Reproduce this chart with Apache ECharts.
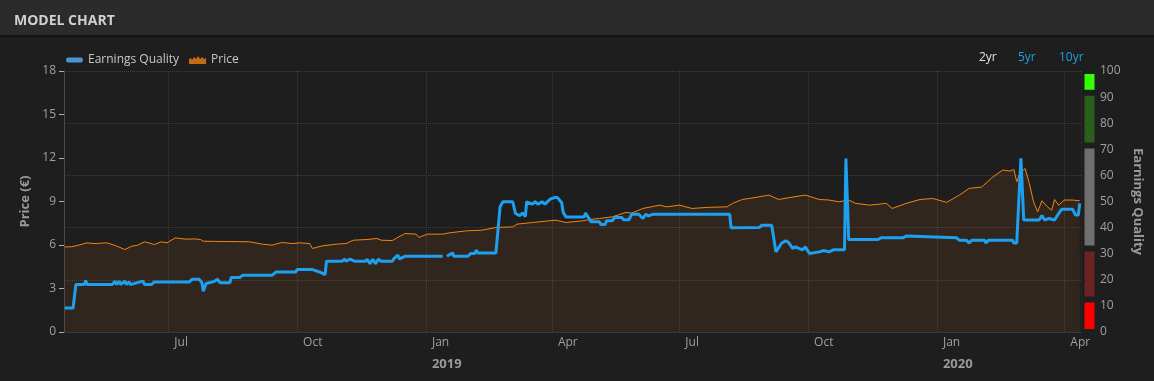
<!DOCTYPE html>
<html><head><meta charset="utf-8">
<script src="https://cdn.jsdelivr.net/npm/echarts@6/dist/echarts.min.js"></script>
<style>html,body{margin:0;padding:0;background:#1e1e1e;}#c{width:1154px;height:381px;}</style>
</head><body><div id="c"></div>
<script>
const priceDates = ['2018-04-18','2018-04-23','2018-04-28','2018-05-04','2018-05-09','2018-05-13','2018-05-18','2018-05-24','2018-05-31','2018-06-05','2018-06-09','2018-06-14','2018-06-18','2018-06-21','2018-06-26','2018-06-30','2018-07-06','2018-07-14','2018-07-20','2018-07-24','2018-07-26','2018-08-03','2018-08-12','2018-08-21','2018-08-28','2018-09-06','2018-09-13','2018-09-20','2018-09-28','2018-10-03','2018-10-10','2018-10-12','2018-10-19','2018-10-29','2018-11-05','2018-11-10','2018-11-20','2018-11-27','2018-11-30','2018-12-08','2018-12-15','2018-12-17','2018-12-25','2018-12-27','2019-01-02','2019-01-13','2019-01-18','2019-01-30','2019-02-10','2019-02-20','2019-03-04','2019-03-07','2019-03-18','2019-03-28','2019-04-04','2019-04-11','2019-04-23','2019-04-28','2019-05-05','2019-05-14','2019-05-24','2019-05-28','2019-06-05','2019-06-17','2019-06-22','2019-07-01','2019-07-10','2019-07-22','2019-08-04','2019-08-08','2019-08-15','2019-08-20','2019-09-03','2019-09-10','2019-09-17','2019-09-29','2019-10-09','2019-10-16','2019-10-23','2019-10-30','2019-11-04','2019-11-14','2019-11-26','2019-11-30','2019-12-10','2019-12-20','2019-12-29','2020-01-08','2020-01-17','2020-01-24','2020-02-02','2020-02-10','2020-02-17','2020-02-22','2020-02-25','2020-02-27','2020-02-29','2020-03-04','2020-03-07','2020-03-10','2020-03-13','2020-03-16','2020-03-20','2020-03-23','2020-03-25','2020-03-28','2020-04-01','2020-04-07','2020-04-12'];
const priceValues = [5.87,5.88,5.99,6.15,6.10,6.12,6.15,5.97,5.69,5.92,5.98,6.22,6.12,6.03,6.22,6.15,6.49,6.40,6.42,6.38,6.26,6.25,6.24,6.23,6.22,6.06,5.99,6.17,6.10,6.15,6.10,5.76,5.94,6.06,6.10,6.33,6.38,6.45,6.33,6.31,6.68,6.79,6.75,6.52,6.75,6.75,6.84,6.98,7.02,7.21,7.25,7.44,7.55,7.65,7.71,7.55,7.67,7.76,7.83,7.94,8.25,8.20,8.52,8.75,8.63,8.75,8.52,8.60,8.63,8.87,9.14,9.21,9.44,9.14,9.26,9.44,9.14,9.10,8.98,9.10,8.87,8.75,8.87,8.52,8.87,9.14,9.21,8.94,9.44,9.90,10.00,10.70,11.17,11.10,11.20,10.36,10.90,11.28,10.25,8.98,8.29,9.05,8.63,8.40,9.14,8.75,9.10,9.10,9.05];

const eqDates = ['2018-04-18','2018-04-24','2018-04-26','2018-05-02','2018-05-03','2018-05-04','2018-05-22','2018-05-24','2018-05-25','2018-05-27','2018-05-28','2018-05-31','2018-06-01','2018-06-03','2018-06-04','2018-06-13','2018-06-14','2018-06-19','2018-06-21','2018-07-16','2018-07-18','2018-07-23','2018-07-25','2018-07-26','2018-07-28','2018-08-03','2018-08-05','2018-08-07','2018-08-14','2018-08-15','2018-08-21','2018-08-23','2018-09-13','2018-09-16','2018-09-30','2018-10-01','2018-10-12','2018-10-17','2018-10-21','2018-10-22','2018-11-02','2018-11-04','2018-11-05','2018-11-08','2018-11-11','2018-11-19','2018-11-20','2018-11-22','2018-11-24','2018-11-26','2018-11-28','2018-11-30','2018-12-08','2018-12-09','2018-12-12','2018-12-13','2018-12-17','2019-01-13','2019-01-14','2019-01-16','2019-01-20','2019-01-21','2019-01-31','2019-02-02','2019-02-05','2019-02-06','2019-02-07','2019-02-20','2019-02-23','2019-02-25','2019-03-04','2019-03-06','2019-03-09','2019-03-11','2019-03-13','2019-03-14','2019-03-18','2019-03-20','2019-03-22','2019-03-25','2019-03-27','2019-03-31','2019-04-03','2019-04-05','2019-04-08','2019-04-09','2019-04-11','2019-04-24','2019-04-25','2019-04-29','2019-05-05','2019-05-06','2019-05-09','2019-05-10','2019-05-14','2019-05-16','2019-05-21','2019-05-22','2019-05-26','2019-05-28','2019-06-02','2019-06-05','2019-06-07','2019-06-09','2019-06-12','2019-08-06','2019-08-07','2019-08-27','2019-08-29','2019-09-05','2019-09-08','2019-09-12','2019-09-15','2019-09-17','2019-09-20','2019-09-22','2019-09-27','2019-09-29','2019-10-02','2019-10-09','2019-10-12','2019-10-16','2019-10-19','2019-10-27','2019-10-28','2019-10-30','2019-11-20','2019-11-22','2019-12-08','2019-12-10','2019-12-11','2020-01-15','2020-01-17','2020-01-22','2020-01-24','2020-01-26','2020-02-04','2020-02-05','2020-02-07','2020-02-24','2020-02-25','2020-02-27','2020-03-01','2020-03-03','2020-03-14','2020-03-16','2020-03-18','2020-03-21','2020-03-25','2020-03-28','2020-03-30','2020-04-07','2020-04-09','2020-04-11','2020-04-12'];
const eqValues = [9.2,9.2,18.2,18.2,19.7,18.2,18.2,19.5,18.2,19.5,18.2,19.5,18.2,19.2,18.2,19.5,18.2,18.2,19.2,19.2,20.2,20.2,19.0,15.6,18.6,19.4,20.2,18.9,18.9,20.9,20.9,21.7,21.7,23.0,23.0,23.9,23.9,23.0,22.0,27.1,27.1,27.9,27.1,27.9,27.1,27.1,27.9,26.2,27.9,26.2,27.9,27.1,27.1,28.0,29.5,28.0,29.0,29.0,null,29.0,30.3,29.0,29.0,30.1,30.1,31.4,30.3,30.3,48.0,49.9,49.9,45.4,44.6,45.6,44.2,49.9,49.0,49.9,49.0,49.9,49.0,51.0,51.5,51.5,49.5,46.0,44.1,44.1,45.6,42.2,42.2,41.2,41.2,42.6,42.6,43.9,43.9,43.0,43.0,45.1,45.1,43.5,45.1,44.5,45.1,45.1,39.9,40.0,40.9,40.9,30.7,34.0,35.0,34.3,32.0,32.6,31.5,32.6,30.1,30.7,31.2,30.7,31.5,31.5,66.5,35.4,35.4,36.1,36.1,36.8,36.1,36.1,35.2,35.2,34.1,35.2,35.2,34.1,35.2,35.2,34.1,34.1,66.5,42.9,42.9,44.6,42.9,43.5,42.9,45.4,47.0,47.0,44.8,44.8,49.3];

const monthNames = ['Jan','Feb','Mar','Apr','May','Jun','Jul','Aug','Sep','Oct','Nov','Dec'];
const bandEdges = [0, 12.5, 32, 71.5, 91.7, 100];
const bandColors = ['#ff0000', '#6c2323', '#6f6f6f', '#2b601c', '#33ff00'];
const rangeButtons = ['2yr', '5yr', '10yr'];

const xMin = new Date(2018, 3, 17, 12).getTime();
const xMax = new Date(2020, 3, 12, 22).getTime();

const chart = echarts.init(document.getElementById('c'), null, {renderer: 'canvas'});
const FONT = '"Open Sans", "Noto Sans", sans-serif';

function monthFmt(v) {
  const d = new Date(v);
  if (d.getDate() !== 1 || d.getHours() !== 0) return '';
  return monthNames[d.getMonth()];
}
function yearFmt(v) {
  const d = new Date(v);
  if (d.getDate() !== 1 || d.getMonth() !== 0 || d.getHours() !== 0) return '';
  return String(d.getFullYear());
}

const bandSeries = bandColors.map((c, i) => ({
  type: 'bar', name: 'band' + i, xAxisIndex: 2, yAxisIndex: 3, stack: 'band',
  barWidth: '100%', silent: true,
  data: [bandEdges[i + 1] - bandEdges[i]],
  itemStyle: {color: c, borderColor: '#1e1e1e', borderWidth: 3}
}));

const btnColors = ['#e2e2e2', '#1da1e6', '#1da1e6'];
const btnX = [979, 1018, 1059];

chart.setOption({
  animation: false,
  backgroundColor: '#1e1e1e',
  textStyle: {fontFamily: FONT},
  title: {
    text: 'MODEL CHART', left: 9, top: 9,
    textStyle: {color: '#d0d0d0', fontSize: 14, fontWeight: 'bold', fontFamily: FONT}
  },
  graphic: [
    {type: 'rect', z: -10, shape: {x: 0, y: 0, width: 1154, height: 35}, style: {fill: '#2b2b2b'}},
    {type: 'rect', z: -10, shape: {x: 0, y: 35, width: 1154, height: 2}, style: {fill: '#121212'}}
  ].concat(rangeButtons.map((t, i) => ({
    type: 'text', x: btnX[i], y: 58,
    style: {text: t, fill: btnColors[i], font: '12px ' + FONT, verticalAlign: 'middle'}
  }))),
  legend: {
    left: 61, top: 49, itemWidth: 17, itemHeight: 10, itemGap: 10,
    textStyle: {color: '#c8c8c8', fontSize: 12, fontFamily: FONT},
    data: [
      {name: 'Earnings Quality', icon: 'path://M0,0 M17,10 M2,2.5 L15,2.5 Q17,2.5 17,5 Q17,7.5 15,7.5 L2,7.5 Q0,7.5 0,5 Q0,2.5 2,2.5 Z', itemStyle: {color: '#4a96d2'}},
      {name: 'Price', icon: 'path://M0,10 L0,5 L2,4 L3,6 L5,3 L7,5 L9,2 L11,5 L13,3 L15,5 L17,4 L17,10 Z', itemStyle: {color: '#c26c14'}}
    ]
  },
  grid: [
    {left: 64, right: 73, top: 71, bottom: 49},
    {left: 1081.5, width: 16, top: 71, bottom: 49}
  ],
  xAxis: [
    {
      type: 'time', gridIndex: 0, min: xMin, max: xMax, splitNumber: 8,
      axisLine: {show: true, lineStyle: {color: '#3a3a3a'}},
      axisTick: {show: false},
      axisLabel: {formatter: monthFmt, color: '#a0a0a0', fontSize: 12, align: 'left', padding: [0, 0, 0, 6], margin: 5, fontFamily: FONT},
      splitLine: {show: true, lineStyle: {type: 'dotted', color: '#3e3e3e'}}
    },
    {
      type: 'time', gridIndex: 0, min: xMin, max: xMax, splitNumber: 8, position: 'bottom',
      axisLine: {show: false}, axisTick: {show: false}, splitLine: {show: false},
      axisLabel: {formatter: yearFmt, color: '#9a9a9a', fontSize: 13, fontWeight: 'bold', align: 'left', padding: [0, 0, 0, 6], margin: 26, fontFamily: FONT}
    },
    {
      type: 'category', gridIndex: 1, data: ['EQ'], show: false
    }
  ],
  yAxis: [
    {
      type: 'value', gridIndex: 0, position: 'left', min: 0, max: 18, interval: 3,
      name: 'Price (€)', nameLocation: 'middle', nameGap: 32,
      nameTextStyle: {color: '#9a9a9a', fontSize: 13, fontWeight: 'bold', fontFamily: FONT},
      axisLine: {show: true, lineStyle: {color: '#4a4a4a'}},
      axisTick: {show: true, length: 5, lineStyle: {color: '#b0b0b0'}},
      axisLabel: {color: '#a0a0a0', fontSize: 12, margin: 8, padding: [3, 0, 0, 0], fontFamily: FONT},
      splitLine: {show: false}
    },
    {
      type: 'value', gridIndex: 0, position: 'right', min: 0, max: 100, interval: 10,
      name: 'Earnings Quality', nameLocation: 'middle', nameGap: 50, nameRotate: -90,
      nameTextStyle: {color: '#9a9a9a', fontSize: 13, fontWeight: 'bold', fontFamily: FONT},
      axisLine: {show: false}, axisTick: {show: false},
      axisLabel: {color: '#a0a0a0', fontSize: 12, margin: 19, padding: [10, 0, 0, 0], fontFamily: FONT},
      splitLine: {show: false}
    },
    {
      type: 'value', gridIndex: 0, position: 'right', min: 0, max: 100, interval: 20,
      axisLine: {show: false}, axisTick: {show: false}, axisLabel: {show: false},
      splitLine: {show: true, lineStyle: {type: 'dotted', color: '#3e3e3e'}}
    },
    {
      type: 'value', gridIndex: 1, min: 0, max: 100, show: false
    }
  ],
  series: [
    {
      type: 'line', name: 'Price', xAxisIndex: 0, yAxisIndex: 0,
      data: priceDates.map((d, i) => [d, priceValues[i]]),
      showSymbol: false, z: 2,
      lineStyle: {color: '#f5830f', width: 1},
      itemStyle: {color: '#f5830f'},
      areaStyle: {color: 'rgba(245,130,20,0.12)'}
    },
    {
      type: 'line', name: 'Earnings Quality', xAxisIndex: 0, yAxisIndex: 1,
      data: eqDates.map((d, i) => [d, eqValues[i]]),
      showSymbol: false, connectNulls: false, z: 3,
      lineStyle: {color: '#1ea0f0', width: 3},
      itemStyle: {color: '#1ea0f0'}
    }
  ].concat(bandSeries)
});
</script>
</body></html>
